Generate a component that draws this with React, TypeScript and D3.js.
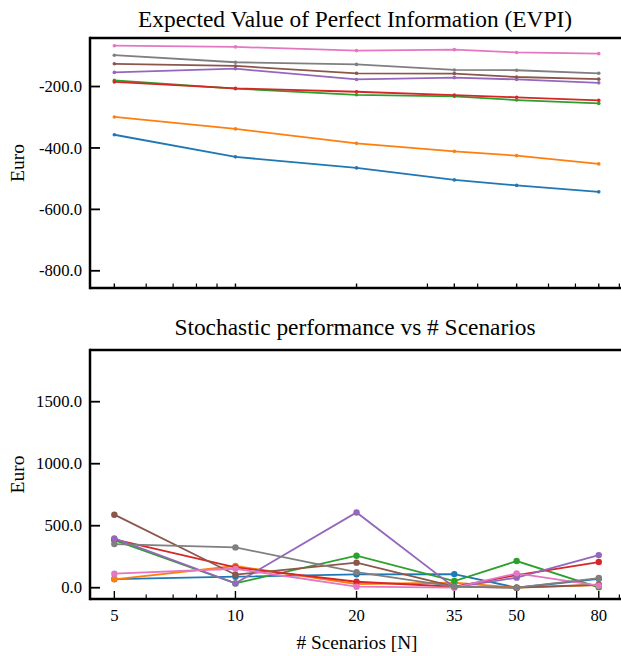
import React from "react";
import * as d3 from "d3";

const scenarios = [5, 10, 20, 35, 50, 80];
const majorTicks = [5, 10, 20, 35, 50, 80];
const minorTicks = [6, 7, 8, 9, 30, 40, 60, 70, 90];
const colors = ["#1f77b4", "#ff7f0e", "#2ca02c", "#d62728", "#9467bd", "#8c564b", "#e377c2", "#7f7f7f"];

const evpiSeries = [
  [-357, -429, -465, -504, -522, -543],
  [-299, -338, -385, -411, -425, -452],
  [-180, -207, -227, -232, -244, -255],
  [-185, -206, -217, -228, -235, -245],
  [-154, -142, -177, -171, -177, -188],
  [-126, -133, -157, -158, -169, -176],
  [-67, -71, -83, -80, -89, -93],
  [-98, -121, -128, -146, -147, -157],
];

const stochSeries = [
  [70, 89, 108, 110, 0, 72],
  [68, 175, 30, 40, 0, 22],
  [384, 35, 258, 54, 215, 3],
  [390, 164, 48, 8, 102, 207],
  [398, 35, 607, 3, 81, 263],
  [589, 105, 202, 8, 0, 24],
  [113, 153, 8, 0, 116, 16],
  [352, 325, 126, 8, 0, 78],
];

const evpiTicks = [-200, -400, -600, -800];
const stochTicks = [0, 500, 1000, 1500];

const FONT = "Liberation Serif, Tinos, Times New Roman, Nimbus Roman, FreeSerif, Noto Serif, DejaVu Serif, serif";

export default function App() {
  const W = 621, H = 656;
  const x = d3.scaleLog().domain([4.35, 91.9]).range([90, 623]);
  const yTop = d3.scaleLinear().domain([-856, -42]).range([288, 38]);
  const yBot = d3.scaleLinear().domain([-91, 1917]).range([599, 350]);

  const panel = (
    y: d3.ScaleLinear<number, number>,
    data: number[][],
    ticks: number[],
    top: number,
    bottom: number,
    title: string,
    titleY: number,
    bottomAxis: boolean,
    r: number
  ) => {
    const line = d3
      .line<number>()
      .x((_, i) => x(scenarios[i]))
      .y((d) => y(d));
    return (
      <g>
        <text x={355} y={titleY} textAnchor="middle" fontSize={23.4} style={{ fontFamily: FONT }} fill="#000">
          {title}
        </text>
        {data.map((s, k) => (
          <g key={k}>
            <path d={line(s) || ""} fill="none" stroke={colors[k]} strokeWidth={1.8} />
            {s.map((v, i) => (
              <circle key={i} cx={x(scenarios[i])} cy={y(v)} r={r} fill={colors[k]} />
            ))}
          </g>
        ))}
        <line x1={90} x2={W} y1={top} y2={top} stroke="#000" strokeWidth={2.5} />
        <line x1={90} x2={W} y1={bottom} y2={bottom} stroke="#000" strokeWidth={2.5} />
        <line x1={90} x2={90} y1={top - 1.25} y2={bottom + 1.25} stroke="#000" strokeWidth={2.5} />
        {ticks.map((t) => (
          <g key={t}>
            <line x1={90} x2={100} y1={y(t)} y2={y(t)} stroke="#000" strokeWidth={1.8} />
            <text x={82} y={y(t)} dy="0.34em" textAnchor="end" fontSize={16.7} style={{ fontFamily: FONT }} fill="#000">
              {d3.format(".1f")(t).replace("−", "-")}
            </text>
          </g>
        ))}
        {majorTicks.map((t) => (
          <line key={"M" + t} x1={x(t)} x2={x(t)} y1={bottom} y2={bottom - (bottomAxis ? 8 : 4.5)} stroke="#000" strokeWidth={1.4} />
        ))}
        {minorTicks.map((t) => (
          <line key={"m" + t} x1={x(t)} x2={x(t)} y1={bottom} y2={bottom - 4.5} stroke="#000" strokeWidth={1.2} />
        ))}
        {bottomAxis &&
          majorTicks.map((t) => (
            <text key={"l" + t} x={x(t)} y={bottom + 22} textAnchor="middle" fontSize={16.7} style={{ fontFamily: FONT }} fill="#000">
              {t}
            </text>
          ))}
        <text
          transform={`translate(24,${(top + bottom) / 2}) rotate(-90)`}
          textAnchor="middle"
          fontSize={19.5}
          style={{ fontFamily: FONT }}
          fill="#000"
        >
          Euro
        </text>
      </g>
    );
  };

  return (
    <svg width={W} height={H} style={{ position: "absolute", left: 0, top: 0, background: "#fff" }}>
      <rect width={W} height={H} fill="#fff" />
      {panel(yTop, evpiSeries, evpiTicks, 38, 288, "Expected Value of Perfect Information (EVPI)", 27, false, 1.8)}
      {panel(yBot, stochSeries, stochTicks, 350, 599, "Stochastic performance vs # Scenarios", 335, true, 3.2)}
      <text x={357} y={649} textAnchor="middle" fontSize={19.3} style={{ fontFamily: FONT }} fill="#000">
        # Scenarios [N]
      </text>
    </svg>
  );
}
